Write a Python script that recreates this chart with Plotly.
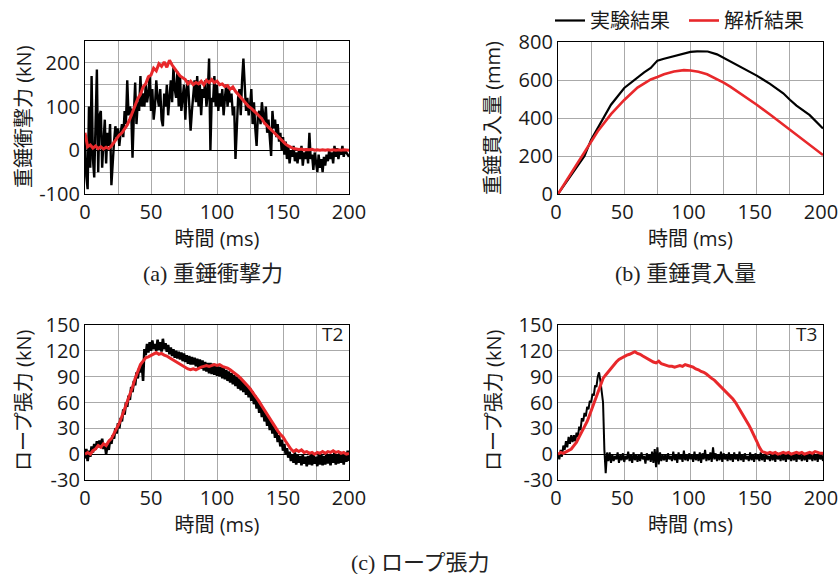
import plotly.graph_objects as go

# ---------------- data ----------------
t_1ms = list(range(0, 201))
t_2ms = list(range(0, 201, 2))

# (a) impact force (kN)
impact_exp = [30, -60, -89, 100, -40, 170, -20, -62, 60, 185, -50,
              80, 90, -40, 20, 70, -30, 40, 10, 60, -80,
              -20, 20, 55, 30, 50, 10, 40, 60, 30, 90,
              60, 160, 80, 100, 90, -17, 80, 155, 60, 110,
              90, 170, 100, 130, 100, 150, 110, 130, 170, 90,
              140, 70, 100, 160, 120, 100, 140, 70, 55, 130,
              100, 150, 80, 120, 160, 110, 190, 140, 120, 180,
              100, 170, 90, 120, 150, 70, 140, 160, 100, 45,
              90, 120, 160, 110, 170, 100, 150, 80, 140, 120,
              160, 100, 130, 210, 0, 120, 110, 170, 100, 150,
              90, 130, 100, 140, 80, 120, 150, 100, 140, 110,
              130, 80, 100, -20, 60, 120, 140, 80, 160, 210,
              150, 90, 120, 80, 100, 140, 60, 110, 50, 10,
              80, 90, 60, 110, 80, 60, 100, 40, 70, 20,
              -13, 90, 50, 70, 30, 60, 20, 40, 0, 30,
              -10, 20, -20, 10, -30, 0, -15, 10, -25, -5,
              -30, 0, -20, 10, -35, -5, -20, 5, -30, 40,
              -20, -10, -45, -5, -30, -50, -10, -40, -20, -50,
              -15, -35, -10, -25, 0, -20, -5, -30, 10, -15,
              5, -20, 0, -10, 10, -15, 0, -5, -10, -15]
impact_ana = [40, 8, 12, 5, 10, 4, 8, 3, 7, 4, 10,
              18, 28, 35, 40, 48, 58, 72, 88, 100, 118,
              128, 145, 152, 168, 172, 188, 182, 198, 192, 202,
              190, 206, 195, 185, 178, 170, 165, 162, 152, 158,
              150, 155, 152, 158, 150, 160, 155, 162, 155, 158,
              150, 152, 146, 148, 140, 145, 135, 128, 120, 115,
              108, 100, 96, 90, 84, 80, 72, 62, 55, 50,
              44, 38, 30, 25, 18, 14, 10, 6, 4, 3,
              2, 3, 1, 2, 1, 2, 0, 1, 0, 1,
              0, 1, 0, 1, 0, 1, 0, 1, 0, 0]

# (b) penetration (mm)
pen_exp_t = [0, 10, 20, 25, 30, 37.5, 40, 50, 60, 65, 70, 74, 75, 80, 90, 100, 105, 113,
             120, 125, 130, 140, 150, 160, 170, 175, 180, 190, 200]
pen_exp = [0, 100, 200, 286, 350, 444, 470, 558, 615, 640, 663, 690, 702, 712, 730, 748, 751, 750,
           735, 716, 698, 662, 623, 580, 530, 496, 465, 415, 345]
pen_ana_t = [0, 10, 20, 25, 30, 40, 50, 60, 70, 75, 80, 87.5, 95, 100, 106, 112.5, 120, 125,
             130, 140, 150, 160, 170, 175, 180, 190, 200]
pen_ana = [0, 110, 225, 280, 330, 420, 495, 560, 603, 616, 630, 645, 652, 650, 643, 630, 605, 586,
           565, 518, 470, 418, 365, 339, 312, 258, 205]

# (c) rope tension T2 (kN)
t2_exp = [-5, 6, -8, 4, -3, 9, 2, 12, 5, 15, 8,
          16, 9, 18, 6, 12, 0, 10, 5, 17, 12,
          22, 18, 30, 24, 36, 30, 42, 38, 52, 46,
          60, 55, 68, 63, 78, 72, 85, 80, 95, 88,
          100, 95, 106, 85, 122, 115, 128, 118, 130, 120,
          132, 122, 128, 120, 133, 121, 130, 119, 134, 122,
          129, 119, 127, 116, 124, 114, 122, 112, 120, 111,
          119, 110, 118, 108, 117, 107, 115, 105, 114, 104,
          113, 104, 112, 102, 111, 100, 110, 99, 109, 97,
          107, 96, 106, 94, 106, 93, 105, 92, 103, 91,
          102, 90, 101, 88, 100, 87, 98, 85, 96, 83,
          94, 81, 92, 79, 90, 76, 88, 74, 85, 72,
          83, 69, 80, 66, 77, 62, 73, 58, 68, 53,
          63, 48, 58, 43, 53, 38, 48, 33, 43, 28,
          38, 24, 33, 19, 28, 14, 22, 9, 17, 4,
          12, 0, 7, -4, 3, -8, 0, -10, 2, -12,
          0, -10, -2, -13, -1, -11, -3, -14, -2, -12,
          -1, -13, 0, -11, -3, -14, -1, -12, 0, -13,
          -2, -12, 1, -11, -1, -13, 0, -10, 2, -12,
          -1, -11, 3, -10, 0, -12, 2, -9, 4, -8]
t2_ana = [0, 2, 0, 4, 6, 10, 8, 12, 10, 15, 18,
          24, 30, 36, 44, 52, 60, 70, 78, 88, 96,
          104, 108, 112, 113, 115, 116, 118, 116, 117, 115,
          114, 112, 110, 108, 106, 104, 102, 101, 99, 98,
          99, 98, 100, 101, 102, 103, 102, 103, 104, 103,
          104, 102, 101, 100, 98, 96, 94, 91, 88, 85,
          81, 78, 74, 70, 66, 61, 56, 51, 46, 41,
          36, 31, 27, 23, 20, 15, 10, 6, 3, 5,
          3, 5, 2, 3, 1, 2, 0, 2, 1, 3,
          1, 3, 2, 4, 2, 3, 1, 2, 0, 1]

# (c) rope tension T3 (kN)
t3_exp = [0, -6, 5, -3, 10, 5, 15, 8, 20, 12, 22,
          14, 22, 15, 25, 20, 32, 28, 42, 38, 48,
          44, 55, 52, 62, 60, 70, 68, 80, 78, 90,
          95, 85, 72, 60, 5, -22, 2, -8, 2, -10,
          0, -8, -2, -6, 2, -10, -1, -7, 1, -9,
          -2, -6, 3, -8, -1, -10, 2, -7, 0, -9,
          -1, -8, 2, -6, -2, -11, 1, -7, 0, -9,
          3, -10, 6, -15, 8, -12, 2, -8, -1, -7,
          0, -9, 1, -6, -2, -8, 3, -7, 0, -10,
          2, -6, -1, -9, 4, -7, 0, -8, 1, -6,
          -1, -9, 3, -7, 0, -8, 2, -10, 1, -6,
          5, -8, 0, -7, 2, -9, 8, -6, 1, -8,
          0, -7, 3, -9, 1, -6, -1, -8, 2, -7,
          0, -9, 2, -6, -1, -8, 3, -7, 0, -9,
          1, -6, -2, -8, 2, -7, 0, -9, 1, -6,
          -1, -8, 2, -7, 0, -9, 1, -6, -2, -8,
          1, -7, 0, -9, 2, -6, -1, -8, 1, -7,
          0, -9, 2, -6, -1, -8, 1, -7, 0, -9,
          2, -6, -1, -8, 1, -7, 0, -9, 2, -6,
          -1, -8, 1, -7, 0, -9, 2, -6, -1, -8]
t3_ana = [0, 2, 1, 3, 5, 6, 10, 14, 20, 26, 32,
          38, 46, 54, 62, 70, 80, 88, 92, 96, 100,
          104, 107, 110, 112, 114, 115, 116, 118, 119, 117,
          116, 114, 112, 110, 108, 107, 106, 108, 105, 104,
          103, 102, 102, 101, 102, 103, 102, 104, 103, 102,
          101, 99, 98, 96, 95, 93, 90, 88, 86, 83,
          80, 77, 74, 71, 68, 64, 60, 55, 50, 45,
          40, 34, 28, 22, 15, 8, 3, 2, 1, 2,
          1, 2, 0, 1, 2, 1, 2, 0, 1, 2,
          1, 2, 0, 1, 2, 1, 3, 2, 1, 1]

x_ticks = [0, 50, 100, 150, 200]
ya_ticks = [-100, 0, 100, 200]
yb_ticks = [0, 200, 400, 600, 800]
yc_ticks = [-30, 0, 30, 60, 90, 120, 150]
label_exp = "実験結果"
label_ana = "解析結果"

# ---------------- figure ----------------
# the page body margin is removed (post_script below), so the figure fills the window
OFF = 0
W, H = 839, 574
BLACK = "#000000"
RED = "#e8282b"
TXT = "#1a1a1a"
FONT = "Open Sans, Noto Sans CJK JP, sans-serif"
SERIF = "Liberation Serif, Noto Sans CJK JP, serif"

fig = go.Figure()

def px_x(a, b):
    return [(a - OFF) / W, (b - OFF) / W]

def px_y(top, bottom):
    return [1 - (bottom - OFF) / H, 1 - (top - OFF) / H]

def fx(a):
    return (a - OFF) / W

def fy(a):
    return 1 - (a - OFF) / H

def labels(vals):
    return [str(v) for v in vals]  # plain hyphen-minus as in the original

# (a)
fig.add_trace(go.Scatter(x=t_1ms, y=impact_exp, mode="lines", line=dict(color=BLACK, width=2.4),
                         xaxis="x", yaxis="y", showlegend=False))
fig.add_trace(go.Scatter(x=t_2ms, y=impact_ana, mode="lines", line=dict(color=RED, width=3),
                         xaxis="x", yaxis="y", showlegend=False))
# (b)
fig.add_trace(go.Scatter(x=pen_exp_t, y=pen_exp, mode="lines", line=dict(color=BLACK, width=2.2),
                         xaxis="x2", yaxis="y2", name=label_exp, showlegend=True))
fig.add_trace(go.Scatter(x=pen_ana_t, y=pen_ana, mode="lines", line=dict(color=RED, width=2.6),
                         xaxis="x2", yaxis="y2", name=label_ana, showlegend=True))
# (c) T2
fig.add_trace(go.Scatter(x=t_1ms, y=t2_exp, mode="lines", line=dict(color=BLACK, width=2.6),
                         xaxis="x3", yaxis="y3", showlegend=False))
fig.add_trace(go.Scatter(x=t_2ms, y=t2_ana, mode="lines", line=dict(color=RED, width=3),
                         xaxis="x3", yaxis="y3", showlegend=False))
# (c) T3
fig.add_trace(go.Scatter(x=t_1ms, y=t3_exp, mode="lines", line=dict(color=BLACK, width=2),
                         xaxis="x4", yaxis="y4", showlegend=False))
fig.add_trace(go.Scatter(x=t_2ms, y=t3_ana, mode="lines", line=dict(color=RED, width=3),
                         xaxis="x4", yaxis="y4", showlegend=False))

GRID = "#aaaaaa"
TICKF = dict(family=FONT, size=20, color=TXT)
common_x = dict(range=[0, 200], tickvals=x_ticks, ticktext=labels(x_ticks), showline=True, mirror=True,
                linecolor=BLACK, linewidth=1.2, showgrid=True, gridcolor=GRID, gridwidth=1, zeroline=False,
                ticks="", automargin=False, ticklabeloverflow="allow", tickfont=TICKF,
                minor=dict(dtick=25, showgrid=True, gridcolor=GRID, gridwidth=1),
                title=dict(text="時間 (ms)", font=dict(family=FONT, size=20, color=TXT), standoff=2))
common_y = dict(showline=True, mirror=True, linecolor=BLACK, linewidth=1.2, showgrid=True,
                gridcolor=GRID, gridwidth=1, ticks="", automargin=False, ticklabeloverflow="allow",
                tickfont=TICKF)
ytitle_font = dict(family=FONT, size=20, color=TXT)
cap_font = dict(family=SERIF, size=22, color="#222")

def ytitle(text, x, y):
    return dict(text=text, x=fx(x), y=fy(y), xref="paper", yref="paper", textangle=-90,
                xanchor="center", yanchor="middle", showarrow=False, font=ytitle_font)

fig.update_layout(
    width=W, height=H, margin=dict(l=0, r=0, t=0, b=0, autoexpand=False),
    plot_bgcolor="white", paper_bgcolor="white",
    xaxis=dict(common_x, domain=px_x(85, 349), anchor="y"),
    yaxis=dict(common_y, domain=px_y(41, 194), anchor="x", range=[-100, 250],
               tickvals=ya_ticks, ticktext=labels(ya_ticks),
               minor=dict(dtick=50, showgrid=True, gridcolor=GRID, gridwidth=1),
               zeroline=True, zerolinecolor=BLACK, zerolinewidth=1.2),
    xaxis2=dict(common_x, domain=px_x(558, 823), anchor="y2", ticklabelshift=-2),
    yaxis2=dict(common_y, domain=px_y(42, 194), anchor="x2", range=[0, 800],
                tickvals=yb_ticks, ticktext=labels(yb_ticks), zeroline=False),
    xaxis3=dict(common_x, domain=px_x(85, 349), anchor="y3"),
    yaxis3=dict(common_y, domain=px_y(325, 480), anchor="x3", range=[-30, 150],
                tickvals=yc_ticks, ticktext=labels(yc_ticks),
                zeroline=True, zerolinecolor=BLACK, zerolinewidth=1.2),
    xaxis4=dict(common_x, domain=px_x(558, 823), anchor="y4", ticklabelshift=-2),
    yaxis4=dict(common_y, domain=px_y(325, 480), anchor="x4", range=[-30, 150],
                tickvals=yc_ticks, ticktext=labels(yc_ticks),
                zeroline=True, zerolinecolor=BLACK, zerolinewidth=1.2),
    legend=dict(orientation="h", x=fx(550), y=fy(1), xanchor="left", yanchor="top",
                font=dict(family=FONT, size=20, color=TXT), bgcolor="rgba(0,0,0,0)",
                entrywidth=89, tracegroupgap=0),
    annotations=[
        ytitle("重錘衝撃力 (kN)", 23, 117),
        ytitle("重錘貫入量 (mm)", 493, 118),
        ytitle("ロープ張力 (kN)", 23, 401),
        ytitle("ロープ張力 (kN)", 493, 401),
        dict(text="(a) 重錘衝撃力", x=fx(213), y=fy(273), xref="paper", yref="paper",
             xanchor="center", yanchor="middle", showarrow=False, font=cap_font),
        dict(text="(b) 重錘貫入量", x=fx(685), y=fy(273), xref="paper", yref="paper",
             xanchor="center", yanchor="middle", showarrow=False, font=cap_font),
        dict(text="(c) ロープ張力", x=fx(420), y=fy(562), xref="paper", yref="paper",
             xanchor="center", yanchor="middle", showarrow=False, font=cap_font),
        dict(text="T2", x=197, y=140, xref="x3", yref="y3", xanchor="right", showarrow=False,
             font=dict(family=FONT, size=19, color=TXT)),
        dict(text="T3", x=197, y=140, xref="x4", yref="y4", xanchor="right", showarrow=False,
             font=dict(family=FONT, size=19, color=TXT)),
    ],
)

fig.write_html("out.html", config={"displayModeBar": False},
               post_script="document.body.style.margin='0';document.body.style.overflow='hidden';")
